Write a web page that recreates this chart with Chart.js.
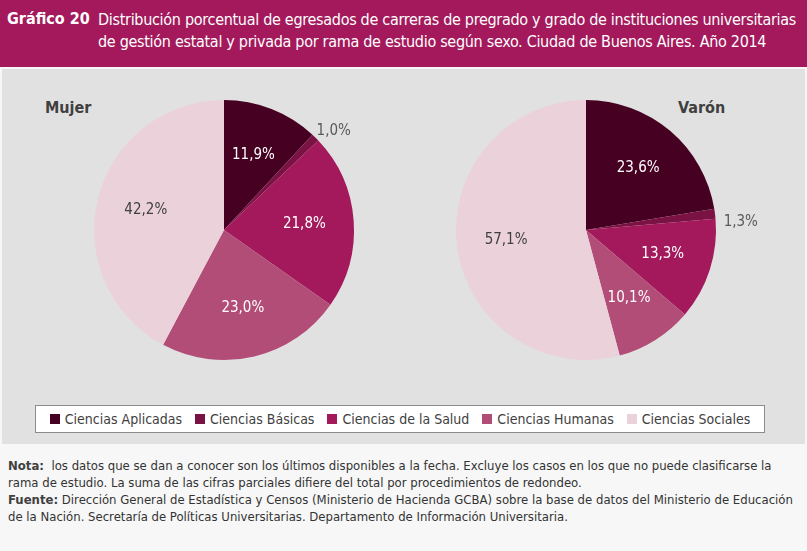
<!DOCTYPE html>
<html>
<head>
<meta charset="utf-8">
<script src="https://cdn.jsdelivr.net/npm/chart.js@4"></script>
<style>
  body { margin: 0; width: 807px; height: 551px; background: #f7f7f7; font-family: "DejaVu Sans Condensed", "DejaVu Sans", sans-serif; position: relative; overflow: hidden; }
  #header { position: absolute; left: 0; top: 0; width: 807px; height: 67px; background: #a3195b; color: #fff; font-size: 16px; }
  #header .num { position: absolute; left: 7px; top: 9px; font-weight: bold; }
  #header .tit { position: absolute; left: 98px; top: 9px; width: 720px; line-height: 22px; letter-spacing: -0.3px; white-space: nowrap; }
  #area { position: absolute; left: 2px; top: 69px; width: 803px; height: 375px; background: #e1e1e1; }
  .box { position: absolute; width: 380px; height: 300px; top: 80px; }
  .sexo { position: absolute; top: 98px; font-weight: bold; font-size: 16px; color: #404040; }
  #leyenda { position: absolute; left: 35px; top: 405px; width: 728px; height: 26px; background: #fff; border: 1px solid #8c8c8c; display: flex; justify-content: center; align-items: center; gap: 13px; font-size: 14px; color: #404040; }
  #leyenda span.sq { display: inline-block; width: 10px; height: 10px; margin-right: 5px; }
  #pie { position: absolute; left: 8px; top: 457px; width: 795px; font-size: 13px; line-height: 17px; color: #333; }
  #pie b { color: #404040; }
</style>
</head>
<body>
<div id="header">
  <div class="num">Gráfico 20</div>
  <div class="tit">Distribución porcentual de egresados de carreras de pregrado y grado de instituciones universitarias<br>de gestión estatal y privada por rama de estudio según sexo. Ciudad de Buenos Aires. Año 2014</div>
</div>
<div id="area"></div>
<div class="sexo" style="left:45px">Mujer</div>
<div class="sexo" style="left:678px">Varón</div>
<div class="box" style="left:34px"><canvas id="mujer"></canvas></div>
<div class="box" style="left:396px"><canvas id="varon"></canvas></div>
<div id="leyenda"></div>
<div id="pie">
  <b>Nota:</b>&nbsp; los datos que se dan a conocer son los últimos disponibles a la fecha. Excluye los casos en los que no puede clasificarse la rama de estudio. La suma de las cifras parciales difiere del total por procedimientos de redondeo.<br>
  <b>Fuente:</b> Dirección General de Estadística y Censos (Ministerio de Hacienda GCBA) sobre la base de datos del Ministerio de Educación de la Nación. Secretaría de Políticas Universitarias. Departamento de Información Universitaria.
</div>
<script>
const ramas = ['Ciencias Aplicadas', 'Ciencias Básicas', 'Ciencias de la Salud', 'Ciencias Humanas', 'Ciencias Sociales']
const mujer = [11.9, 1.0, 21.8, 23.0, 42.2]
const varon = [23.6, 1.3, 13.3, 10.1, 57.1]
const colores = ['#460022', '#7a1343', '#a3195b', '#b24d77', '#ebd2da']
const colorTexto = ['#fff', '#595959', '#fff', '#fff', '#404040']

// etiquetas de porcentaje sobre cada porción
const etiquetas = {
  id: 'etiquetas',
  afterDatasetsDraw(chart) {
    const ctx = chart.ctx
    const meta = chart.getDatasetMeta(0)
    const valores = chart.data.datasets[0].data
    ctx.save()
    ctx.font = '15px "DejaVu Sans Condensed", "DejaVu Sans", sans-serif'
    ctx.textAlign = 'center'
    ctx.textBaseline = 'middle'
    meta.data.forEach((arc, i) => {
      const ang = (arc.startAngle + arc.endAngle) / 2
      const chico = valores[i] < 5
      const r = arc.outerRadius * (chico ? 1.2 : 0.62)
      ctx.fillStyle = colorTexto[i]
      const txt = valores[i].toFixed(1).replace('.', ',') + '%'
      // las etiquetas de fuera quedan un poco más abajo
      ctx.fillText(txt, arc.x + Math.cos(ang) * r, arc.y + Math.sin(ang) * r + (chico ? 12 : 0))
    })
    ctx.restore()
  }
}

function torta(id, datos) {
  new Chart(document.getElementById(id), {
    type: 'pie',
    data: {
      labels: ramas,
      datasets: [{ data: datos, backgroundColor: colores, borderWidth: 0 }]
    },
    options: {
      responsive: true,
      maintainAspectRatio: false,
      animation: false,
      layout: { padding: { left: 60, right: 60, top: 20, bottom: 20 } },
      plugins: { legend: { display: false }, tooltip: { enabled: false } }
    },
    plugins: [etiquetas]
  })
}

torta('mujer', mujer)
torta('varon', varon)

const ley = document.getElementById('leyenda')
ley.innerHTML = ramas.map((r, i) =>
  `<div><span class="sq" style="background:${colores[i]}"></span>${r}</div>`).join('')
</script>
</body>
</html>
